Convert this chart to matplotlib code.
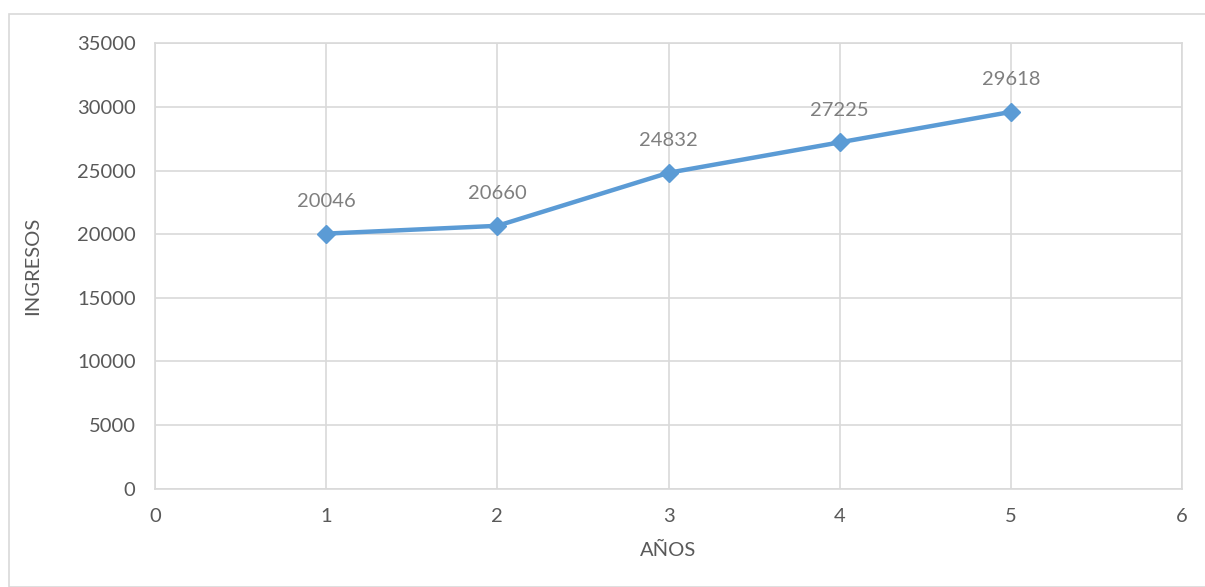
import matplotlib
matplotlib.use("Agg")
import matplotlib.pyplot as plt
from matplotlib.patches import Rectangle

years = [1, 2, 3, 4, 5]
ingresos = [20046, 20660, 24832, 27225, 29618]
x_ticks = [0, 1, 2, 3, 4, 5, 6]
y_ticks = [0, 5000, 10000, 15000, 20000, 25000, 30000, 35000]

plt.rcParams['font.family'] = ['Lato', 'DejaVu Sans']
text_color = '#595959'
label_color = '#7f7f7f'
grid_color = '#d9d9d9'
line_color = '#5b9bd5'
fs = 14.5

fig = plt.figure(figsize=(12.05, 5.87), dpi=100)
ax = fig.add_axes([0.1286, 0.1678, 0.981 - 0.1286, 0.9259 - 0.1678])

# outer chart frame
fig.patches.append(Rectangle((9 / 1205, 0), 1.2, 1 - 14 / 587, transform=fig.transFigure,
                             fill=False, edgecolor=grid_color, linewidth=1.2))

ax.plot(years, ingresos, color=line_color, linewidth=3.2, marker='D',
        markersize=9, markeredgecolor=line_color, markerfacecolor=line_color, zorder=3)

for x, y in zip(years, ingresos):
    ax.annotate(f"{y}", (x, y), xytext=(0, 23), textcoords='offset points',
                ha='center', va='center', fontsize=fs, color=label_color)

ax.set_xlim(0, 6)
ax.set_ylim(0, 35000)
ax.set_xticks(x_ticks)
ax.set_yticks(y_ticks)
ax.set_xticklabels([str(t) for t in x_ticks])
ax.set_yticklabels([str(t) for t in y_ticks])
ax.grid(True, color=grid_color, linewidth=1.2)
ax.set_axisbelow(True)
for s in ax.spines.values():
    s.set_color(grid_color)
    s.set_linewidth(1.2)
ax.tick_params(length=0, labelsize=fs, labelcolor=text_color)
ax.tick_params(axis='y', pad=14)
ax.tick_params(axis='x', pad=14)

ax.set_xlabel('AÑOS', fontsize=fs, color=text_color, labelpad=12)
ax.set_ylabel('INGRESOS', fontsize=fs, color=text_color, labelpad=26)

fig.savefig('out.png', dpi=100)
